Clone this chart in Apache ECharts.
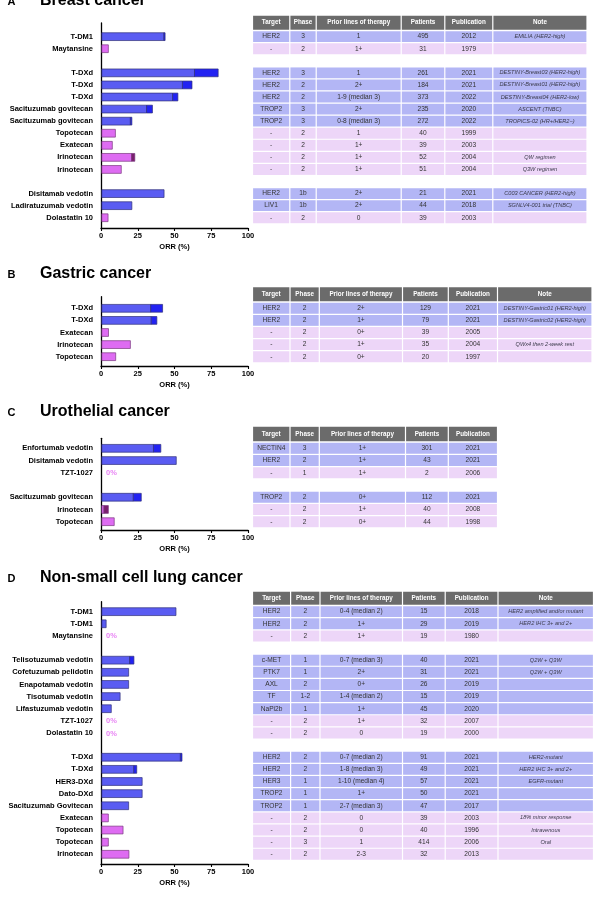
<!DOCTYPE html>
<html><head><meta charset="utf-8">
<script src="https://cdn.jsdelivr.net/npm/echarts@6/dist/echarts.min.js"></script>
<style>html,body{margin:0;padding:0;background:#fff}#c{width:600px;height:897px}</style>
</head><body><div id="c"></div><script>
// ---------------- DATA ----------------
// Panel A - Breast cancer
const catsA = ['T-DM1','Maytansine','', 'T-DXd','T-DXd','T-DXd','Sacituzumab govitecan','Sacituzumab govitecan','Topotecan','Exatecan','Irinotecan','Irinotecan','', 'Disitamab vedotin','Ladiratuzumab vedotin','Dolastatin 10'];
const baseA = [42.8, 5, null, 63.6, 55.4, 48.7, 31, 20, 9.8, 7.7, 20.8, 13.8, null, 42.9, 21, 4.8];
const tipA  = [0.8, 0, null, 16.1, 6.5, 3.6, 4, 1, 0, 0, 2.2, 0, null, 0, 0, 0];
const targetA = ['HER2','-',null,'HER2','HER2','HER2','TROP2','TROP2','-','-','-','-',null,'HER2','LIV1','-'];
const phaseA = ['3','2',null,'3','2','2','3','3','2','2','2','2',null,'1b','1b','2'];
const priorA = ['1','1+',null,'1','2+','1-9 (median 3)','2+','0-8 (median 3)','1','1+','1+','1+',null,'2+','2+','0'];
const patientsA = ['495','31',null,'261','184','373','235','272','40','39','52','51',null,'21','44','39'];
const pubA = ['2012','1979',null,'2021','2021','2022','2020','2022','1999','2003','2004','2004',null,'2021','2018','2003'];
const noteA = ['EMILIA (HER2-high)','',null,'DESTINY-Breast03 (HER2-high)','DESTINY-Breast01 (HER2-high)','DESTINY-Breast04 (HER2-low)','ASCENT (TNBC)','TROPICS-02 (HR+/HER2\u2212)','','','QW regimen','Q3W regimen',null,'C003 CANCER (HER2-high)','SGNLV4-001 trial (TNBC)',''];

// Panel B - Gastric cancer
const catsB = ['T-DXd','T-DXd','Exatecan','Irinotecan','Topotecan'];
const baseB = [33.8, 34.2, 5.1, 20, 10];
const tipB  = [8.1, 3.8, 0, 0, 0];
const targetB = ['HER2','HER2','-','-','-'];
const phaseB = ['2','2','2','2','2'];
const priorB = ['2+','1+','0+','1+','0+'];
const patientsB = ['129','79','39','35','20'];
const pubB = ['2021','2021','2005','2004','1997'];
const noteB = ['DESTINY-Gastric01 (HER2-high)','DESTINY-Gastric02 (HER2-high)','','QWx4 then 2-week rest',''];

// Panel C - Urothelial cancer
const catsC = ['Enfortumab vedotin','Disitamab vedotin','TZT-1027','','Sacituzumab govitecan','Irinotecan','Topotecan'];
const baseC = [35.7, 51.2, 0, null, 22, 2, 9];
const tipC  = [5, 0, 0, null, 5.4, 3, 0];
const targetC = ['NECTIN4','HER2','-',null,'TROP2','-','-'];
const phaseC = ['3','2','1',null,'2','2','2'];
const priorC = ['1+','1+','1+',null,'0+','1+','0+'];
const patientsC = ['301','43','2',null,'112','40','44'];
const pubC = ['2021','2021','2006',null,'2021','2008','1998'];

// Panel D - Non-small cell lung cancer
const catsD = ['T-DM1','T-DM1','Maytansine','','Telisotuzumab vedotin','Cofetuzumab pelidotin','Enapotamab vedotin','Tisotumab vedotin','Lifastuzumab vedotin','TZT-1027','Dolastatin 10','','T-DXd','T-DXd','HER3-DXd','Dato-DXd','Sacituzumab Govitecan','Exatecan','Topotecan','Topotecan','Irinotecan'];
const baseD = [51, 3.5, 0, null, 19.5, 18.8, 18.8, 13, 7, 0, 0, null, 54, 22.3, 28, 28, 18.8, 5, 15, 5, 19];
const tipD  = [0, 0, 0, null, 2.9, 0, 0, 0, 0, 0, 0, null, 1.1, 2, 0, 0, 0, 0, 0, 0, 0];
const targetD = ['HER2','HER2','-',null,'c-MET','PTK7','AXL','TF','NaPi2b','-','-',null,'HER2','HER2','HER3','TROP2','TROP2','-','-','-','-'];
const phaseD = ['2','2','2',null,'1','1','2','1-2','1','2','2',null,'2','2','1','1','1','2','2','3','2'];
const priorD = ['0-4 (median 2)','1+','1+',null,'0-7 (median 3)','2+','0+','1-4 (median 2)','1+','1+','0',null,'0-7 (median 2)','1-8 (median 3)','1-10 (median 4)','1+','2-7 (median 3)','0','0','1','2-3'];
const patientsD = ['15','29','19',null,'40','31','26','15','45','32','19',null,'91','49','57','50','47','39','40','414','32'];
const pubD = ['2018','2019','1980',null,'2021','2021','2019','2019','2020','2007','2000',null,'2021','2021','2021','2021','2017','2003','1996','2006','2013'];
const noteD = ['HER2 amplified and/or mutant','HER2 IHC 3+ and 2+','',null,'Q2W + Q3W','Q2W + Q3W','','','','','',null,'HER2-mutant','HER2 IHC 3+ and 2+','EGFR-mutant','','','18% minor response','Intravenous','Oral',''];

const headers6 = ['Target','Phase','Prior lines of therapy','Patients','Publication','Note'];
const headers5 = ['Target','Phase','Prior lines of therapy','Patients','Publication'];
const ticksX = [0, 25, 50, 75, 100];

// ---------------- LAYOUT / STYLE ----------------
const FF = '"Liberation Sans", Arial, sans-serif';
const BLUE = '#5a5cf2', BLUE_T = '#2222f2', BLUE_B = '#30307a';
const PINK = '#de6cf2', PINK_T = '#7a1f6e', PINK_B = '#7a3a80';
const ROW_BLUE = '#b3b6f5', ROW_PINK = '#edd6f8', HEAD = '#6b6b6b';

const panels = [
  {letter:'A', title:'Breast cancer', titleY:2.5, top:23, height:205, min:-1.13, max:15.85,
   cats:catsA, base:baseA, tip:tipA, cols:[targetA,phaseA,priorA,patientsA,pubA,noteA], headers:headers6,
   edges:[252.5,289.8,316.2,401.2,444.8,492.8,587], headH:14},
  {letter:'B', title:'Gastric cancer', titleY:275, top:296.7, height:69.3, min:-0.96, max:4.77,
   cats:catsB, base:baseB, tip:tipB, cols:[targetB,phaseB,priorB,patientsB,pubB,noteB], headers:headers6,
   edges:[252.5,290,319.3,402.5,448.3,497.5,592], headH:14},
  {letter:'C', title:'Urothelial cancer', titleY:413.5, top:438.3, height:91.7, min:-0.82, max:6.68,
   cats:catsC, base:baseC, tip:tipC, cols:[targetC,phaseC,priorC,patientsC,pubC], headers:headers5,
   edges:[252.5,290,319.3,405.5,448.3,497.5], headH:14.5},
  {letter:'D', title:'Non-small cell lung cancer', titleY:579.5, top:601.7, height:262.3, min:-0.82, max:20.8,
   cats:catsD, base:baseD, tip:tipD, cols:[targetD,phaseD,priorD,patientsD,pubD,noteD], headers:headers6,
   edges:[252.5,290.6,320,402.5,445.2,498,593.5], headH:13}
];

function barRender(p){
  return function(params, api){
    const i = api.value(0);
    const b = p.base[i], t = p.tip[i];
    if (b == null) return null;
    const pink = p.cols[0][i] === '-';
    const p0 = api.coord([0, i]);
    const h = 7.8;
    const ch = [{type:'text', style:{text:p.cats[i], x:p0[0]-8, y:p0[1], align:'right', verticalAlign:'middle',
      font:'bold 7.5px ' + FF, fill:'#000'}}];
    if (b + t === 0) {
      ch.push({type:'text', style:{text:'0%', x:p0[0]+5, y:p0[1]+0.5, align:'left', verticalAlign:'middle',
        font:'bold 7.5px ' + FF, fill:'#e884f4'}});
    } else {
      const p1 = api.coord([b, i]), p2 = api.coord([b + t, i]);
      ch.push({type:'rect', shape:{x:p0[0]+0.8, y:p0[1]-h/2, width:p1[0]-p0[0]-0.8, height:h},
        style:{fill: pink ? PINK : BLUE, stroke: pink ? PINK_B : BLUE_B, lineWidth:0.7}});
      if (t > 0) ch.push({type:'rect', shape:{x:p1[0], y:p0[1]-h/2, width:p2[0]-p1[0], height:h},
        style:{fill: pink ? PINK_T : BLUE_T, stroke: pink ? PINK_B : BLUE_B, lineWidth:0.7}});
    }
    return {type:'group', children:ch};
  };
}

function tableRender(p){
  return function(params, api){
    const i = api.value(0);
    const e = p.edges, ch = [];
    if (i === -1) {
      const yb = api.coord([e[0], -0.5])[1] - 0.9, yt = yb - p.headH;
      for (let c = 0; c < e.length - 1; c++) {
        const x0 = api.coord([e[c], 0])[0] + 0.6, x1 = api.coord([e[c+1], 0])[0] - 0.6;
        ch.push({type:'rect', shape:{x:x0, y:yt, width:x1-x0, height:yb-yt}, style:{fill:HEAD}});
        ch.push({type:'text', style:{text:p.headers[c], x:(x0+x1)/2, y:(yt+yb)/2, align:'center', verticalAlign:'middle',
          font:'bold 6.3px ' + FF, fill:'#fff'}});
      }
      return {type:'group', children:ch};
    }
    if (p.cols[0][i] == null) return null;
    const pink = p.cols[0][i] === '-';
    const yt = api.coord([e[0], i-0.5])[1] + 0.6, yb = api.coord([e[0], i+0.5])[1] - 0.6;
    for (let c = 0; c < e.length - 1; c++) {
      const x0 = api.coord([e[c], 0])[0] + 0.6, x1 = api.coord([e[c+1], 0])[0] - 0.6;
      ch.push({type:'rect', shape:{x:x0, y:yt, width:x1-x0, height:yb-yt}, style:{fill: pink ? ROW_PINK : ROW_BLUE}});
      const isNote = c === 5;
      ch.push({type:'text', style:{text:p.cols[c][i], x:(x0+x1)/2, y:(yt+yb)/2, align:'center', verticalAlign:'middle',
        font:(isNote ? 'italic 5.6px ' : '6.6px ') + FF, fill: isNote ? '#3a3a4a' : '#333'}});
    }
    return {type:'group', children:ch};
  };
}

const grid = [], xAxis = [], yAxis = [], series = [], graphic = [];
panels.forEach((p, k) => {
  // bar grid
  grid.push({left:101, width:147, top:p.top, height:p.height});
  xAxis.push({gridIndex:2*k, type:'value', min:0, max:100, interval:25,
    axisLine:{show:true, onZero:false, lineStyle:{color:'#000', width:1.3}},
    axisTick:{show:true, length:3, lineStyle:{color:'#000', width:1.1}},
    axisLabel:{fontSize:7.5, fontWeight:'bold', color:'#000', margin:4, fontFamily:FF,
      customValues: ticksX},
    splitLine:{show:false},
    name:'ORR (%)', nameLocation:'middle', nameGap:15,
    nameTextStyle:{fontSize:7.5, fontWeight:'bold', color:'#000', fontFamily:FF}});
  yAxis.push({gridIndex:2*k, type:'value', inverse:true, min:p.min, max:p.max,
    axisLine:{show:true, onZero:false, lineStyle:{color:'#000', width:1.3}},
    axisTick:{show:false}, axisLabel:{show:false}, splitLine:{show:false}});
  // table grid
  const e = p.edges;
  grid.push({left:e[0], width:e[e.length-1]-e[0], top:p.top, height:p.height});
  xAxis.push({gridIndex:2*k+1, type:'value', min:e[0], max:e[e.length-1], show:false, splitLine:{show:false}});
  yAxis.push({gridIndex:2*k+1, type:'value', inverse:true, min:p.min, max:p.max, show:false, splitLine:{show:false}});

  series.push({type:'custom', xAxisIndex:2*k, yAxisIndex:2*k, renderItem:barRender(p),
    data:p.cats.map((c, i) => [i, p.base[i] == null ? 0 : p.base[i] + p.tip[i]]), encode:{y:0, x:1}, clip:false, silent:true});
  const tdata = [[-1, e[0]]].concat(p.cats.map((c, i) => [i, e[0]]));
  series.push({type:'custom', xAxisIndex:2*k+1, yAxisIndex:2*k+1, renderItem:tableRender(p),
    data:tdata, encode:{y:0, x:1}, clip:false, silent:true});

  graphic.push({type:'text', left:7.5, top:p.titleY - 6, style:{text:p.letter, font:'bold 11px ' + FF, fill:'#000'}});
  graphic.push({type:'text', left:40, top:p.titleY - 9.5, style:{text:p.title, font:'bold 16px ' + FF, fill:'#000'}});
});

const chart = echarts.init(document.getElementById('c'), null, {renderer:'canvas'});
chart.setOption({animation:false, backgroundColor:'#fff', grid, xAxis, yAxis, series, graphic});
</script></body></html>
